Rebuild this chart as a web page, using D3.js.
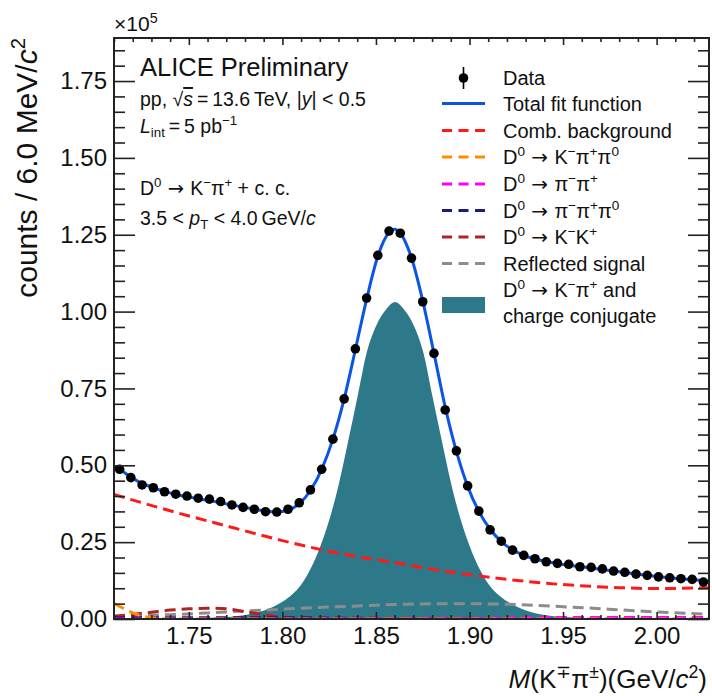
<!DOCTYPE html>
<html>
<head>
<meta charset="utf-8">
<script src="https://cdn.jsdelivr.net/npm/d3@7"></script>
<style>
  html, body { margin: 0; padding: 0; background: #fff; }
  svg { display: block; font-family: "Liberation Sans", Arial, Helvetica, sans-serif; }
</style>
</head>
<body>
<svg id="chart" width="712" height="696"></svg>
<script>
// ---- Invariant mass bins (GeV/c^2), 6 MeV wide ----
const massBins = [1.713,1.719,1.725,1.731,1.737,1.743,1.749,1.755,1.761,1.767,1.773,1.779,1.785,1.791,1.797,
  1.803,1.809,1.815,1.821,1.827,1.833,1.839,1.845,1.851,1.857,1.863,1.869,1.875,1.881,1.887,1.893,1.899,
  1.905,1.911,1.917,1.923,1.929,1.935,1.941,1.947,1.953,1.959,1.965,1.971,1.977,1.983,1.989,1.995,2.001,
  2.007,2.013,2.019,2.025];
// Counts per bin (x10^5)
const counts = [0.487,0.460,0.436,0.427,0.414,0.406,0.400,0.393,0.390,0.382,0.371,0.363,0.357,0.349,0.348,
  0.357,0.378,0.420,0.487,0.585,0.716,0.879,1.044,1.183,1.262,1.255,1.174,1.032,0.864,0.680,0.547,0.433,
  0.351,0.290,0.253,0.224,0.207,0.196,0.186,0.181,0.178,0.170,0.168,0.163,0.156,0.152,0.146,0.142,0.137,
  0.134,0.131,0.129,0.120];

// Total fit function samples
const fitMass = [1.710,1.713,1.719,1.725,1.731,1.737,1.743,1.749,1.755,1.761,1.767,1.773,1.779,1.785,1.791,
  1.797,1.803,1.809,1.815,1.821,1.827,1.833,1.839,1.845,1.851,1.857,1.860,1.863,1.869,1.875,1.881,1.887,
  1.893,1.899,1.905,1.911,1.917,1.923,1.929,1.935,1.941,1.947,1.953,1.959,1.965,1.971,1.977,1.983,1.989,
  1.995,2.001,2.007,2.013,2.019,2.025,2.028];
const fitVal = [0.497,0.487,0.462,0.441,0.427,0.415,0.405,0.398,0.391,0.385,0.378,0.371,0.364,0.357,0.351,
  0.348,0.354,0.375,0.418,0.487,0.585,0.716,0.876,1.040,1.180,1.257,1.268,1.255,1.175,1.035,0.865,0.690,
  0.545,0.432,0.350,0.292,0.252,0.225,0.207,0.195,0.187,0.180,0.175,0.170,0.166,0.161,0.156,0.151,0.146,
  0.142,0.138,0.134,0.131,0.128,0.125,0.124];

// Signal D0 -> K-pi+ and charge conjugate
const sigMass = [1.710,1.7502,1.7652,1.7802,1.7902,1.8002,1.8052,1.8102,1.8152,1.8202,1.8252,1.8302,1.8352,
  1.8402,1.8452,1.8502,1.8552,1.8602,1.8652,1.8702,1.8752,1.8802,1.8852,1.8902,1.8952,1.9002,1.9052,1.9102,
  1.9152,1.9202,1.9302,1.9402,1.9552,1.9702,2.0102,2.028];
const sigVal = [0.000,0.002,0.005,0.013,0.028,0.057,0.080,0.113,0.165,0.235,0.325,0.440,0.580,
  0.725,0.870,0.955,1.005,1.031,1.005,0.955,0.870,0.725,0.580,0.440,0.325,0.235,0.165,0.113,
  0.080,0.057,0.028,0.013,0.005,0.002,0.000,0.000];

// Combinatorial background
const bkgMass = [1.710,1.740,1.770,1.800,1.830,1.860,1.890,1.920,1.950,1.980,2.000,2.028];
const bkgVal  = [0.405,0.352,0.303,0.255,0.214,0.183,0.153,0.129,0.112,0.102,0.099,0.102];

// Reflected signal
const reflMass = [1.710,1.740,1.770,1.800,1.830,1.860,1.890,1.920,1.950,1.980,2.000,2.028];
const reflVal  = [0.010,0.014,0.023,0.032,0.040,0.047,0.050,0.048,0.040,0.030,0.023,0.015];

// D0 -> K-pi+pi0
const kpipi0Mass = [1.710,1.715,1.720,1.725,1.730,1.740,2.028];
const kpipi0Val  = [0.050,0.035,0.020,0.010,0.004,0.000,0.000];

// D0 -> pi-pi+
const pipiMass = [1.710,1.900,1.930,1.960,2.000,2.028];
const pipiVal  = [0.000,0.001,0.004,0.005,0.005,0.005];

// D0 -> pi-pi+pi0
const pipipi0Mass = [1.710,1.750,1.800,1.850,1.900,2.028];
const pipipi0Val  = [0.004,0.004,0.004,0.002,0.001,0.000];

// D0 -> K-K+
const kkMass = [1.710,1.720,1.730,1.740,1.750,1.760,1.770,1.780,1.790,1.800,1.810,1.830,2.028];
const kkVal  = [0.008,0.015,0.022,0.029,0.033,0.035,0.033,0.024,0.014,0.005,0.002,0.000,0.000];

const xTickLabels = ["1.75","1.80","1.85","1.90","1.95","2.00"];
const yTickLabels = ["0.00","0.25","0.50","0.75","1.00","1.25","1.50","1.75"];

// ---- Layout ----
const svg = d3.select("#chart");
const L = 114, R = 709, T = 38, B = 619;
const x = d3.scaleLinear().domain([1.71, 2.028]).range([L, R]);
const y = d3.scaleLinear().domain([0, 1.89]).range([B, T]);

svg.append("defs").append("clipPath").attr("id", "plotClip")
  .append("rect").attr("x", L).attr("y", T).attr("width", R - L).attr("height", B - T);

const plot = svg.append("g").attr("clip-path", "url(#plotClip)");

const curveLine = (ms, vs) => d3.line()
  .x((d, i) => x(ms[i])).y(d => y(d)).curve(d3.curveMonotoneX)(vs);

// Signal area
plot.append("path")
  .attr("d", d3.area().x((d, i) => x(sigMass[i])).y0(y(0)).y1(d => y(d)).curve(d3.curveMonotoneX)(sigVal))
  .attr("fill", "#2d7889");

// Dashed component curves
const comps = [
  {m: reflMass, v: reflVal, c: "#8c8c8c"},
  {m: kkMass, v: kkVal, c: "#b22222"},
  {m: pipipi0Mass, v: pipipi0Val, c: "#1c1c78"},
  {m: pipiMass, v: pipiVal, c: "#ff00ff"},
  {m: kpipi0Mass, v: kpipi0Val, c: "#ff8c00"},
  {m: bkgMass, v: bkgVal, c: "#ff1a1a"}
];
comps.forEach(cp => {
  plot.append("path").attr("d", curveLine(cp.m, cp.v))
    .attr("fill", "none").attr("stroke", cp.c).attr("stroke-width", 3)
    .attr("stroke-dasharray", "11,6");
});

// Total fit
plot.append("path").attr("d", curveLine(fitMass, fitVal))
  .attr("fill", "none").attr("stroke", "#0a55e6").attr("stroke-width", 3);

// Data points
plot.selectAll("circle.data").data(counts).enter().append("circle")
  .attr("class", "data")
  .attr("cx", (d, i) => x(massBins[i])).attr("cy", d => y(d)).attr("r", 4.8)
  .attr("fill", "#000");

// ---- Axes ----
const axisColor = "#222";
const xMajor = xTickLabels.map(Number);
const yMajor = yTickLabels.map(Number);
const xMinor = d3.range(1.71, 2.0285, 0.01).map(v => +v.toFixed(3)).filter(v => !xMajor.some(M => Math.abs(M - v) < 1e-6));
const yMinor = d3.range(0, 1.8901, 0.05).map(v => +v.toFixed(3)).filter(v => !yMajor.some(M => Math.abs(M - v) < 1e-6));

function styleAxis(g) {
  g.select(".domain").remove();
  g.selectAll(".tick line").attr("stroke", axisColor).attr("stroke-width", 1.6);
  g.selectAll(".tick text").attr("fill", "#111").attr("font-size", 24)
    .attr("font-family", "\"Liberation Sans\", Arial, Helvetica, sans-serif");
}

svg.append("g").attr("transform", `translate(0,${B})`)
  .call(d3.axisBottom(x).tickValues(xMajor).tickFormat((d, i) => xTickLabels[i]).tickSize(-7).tickPadding(8))
  .call(styleAxis);
svg.append("g").attr("transform", `translate(0,${B})`)
  .call(d3.axisBottom(x).tickValues(xMinor).tickFormat("").tickSize(-4)).call(styleAxis);
svg.append("g").attr("transform", `translate(0,${T})`)
  .call(d3.axisTop(x).tickValues(xMajor).tickFormat("").tickSize(-7)).call(styleAxis);
svg.append("g").attr("transform", `translate(0,${T})`)
  .call(d3.axisTop(x).tickValues(xMinor).tickFormat("").tickSize(-4)).call(styleAxis);

svg.append("g").attr("transform", `translate(${L},0)`)
  .call(d3.axisLeft(y).tickValues(yMajor).tickFormat((d, i) => yTickLabels[i]).tickSize(-21).tickPadding(7))
  .call(styleAxis);
svg.append("g").attr("transform", `translate(${L},0)`)
  .call(d3.axisLeft(y).tickValues(yMinor).tickFormat("").tickSize(-11)).call(styleAxis);
svg.append("g").attr("transform", `translate(${R},0)`)
  .call(d3.axisRight(y).tickValues(yMajor).tickFormat("").tickSize(-21)).call(styleAxis);
svg.append("g").attr("transform", `translate(${R},0)`)
  .call(d3.axisRight(y).tickValues(yMinor).tickFormat("").tickSize(-11)).call(styleAxis);

svg.append("rect").attr("x", L).attr("y", T).attr("width", R - L).attr("height", B - T)
  .attr("fill", "none").attr("stroke", axisColor).attr("stroke-width", 2);

// ---- Rich text helper: parts with optional sup/sub, italic, overline, arrow font ----
function rich(parent, px, py, parts, size, anchor, transform) {
  const t = parent.append("text").attr("x", px).attr("y", py)
    .attr("font-size", size).attr("fill", "#111").attr("text-anchor", anchor || "start");
  if (transform) t.attr("transform", transform);
  let off = 0;
  parts.forEach(p => {
    const target = p.s === "sup" ? -0.40 * size : p.s === "sub" ? 0.22 * size : 0;
    const ts = t.append("tspan").attr("dy", target - off).text(p.t);
    off = target;
    if (p.s) ts.attr("font-size", size * 0.68);
    if (p.i) ts.attr("font-style", "italic");
    if (p.o) ts.style("text-decoration", "overline");
    if (p.a) ts.attr("font-family", "\"DejaVu Sans\", sans-serif");
  });
  return t;
}
const ARROW = {t: " → ", a: true};
const TS = "\u2009";

// Exponent
rich(svg, 114, 31, [{t: "×10"}, {t: "5", s: "sup"}], 21);

// Axis titles
rich(svg, 0, 0, [{t: "counts / 6.0 MeV/"}, {t: "c", i: true}, {t: "2", s: "sup"}], 30, "end",
  "translate(37,38) rotate(-90)");
rich(svg, 707, 688, [{t: "M", i: true}, {t: "(K"}, {t: "∓", s: "sup"}, {t: "π"}, {t: "±", s: "sup"},
  {t: ")(GeV/"}, {t: "c", i: true}, {t: "2", s: "sup"}, {t: ")"}], 26, "end");

// Header text
rich(svg, 140, 76, [{t: "ALICE Preliminary"}], 25.5);
rich(svg, 140, 106, [{t: "pp, √"}, {t: "s", i: true, o: true}, {t: TS + "=" + TS + "13.6" + TS + "TeV, |"}, {t: "y", i: true}, {t: "| < 0.5"}], 19.5);
rich(svg, 140, 133, [{t: "L", i: true}, {t: "int", s: "sub"}, {t: TS + "=" + TS + "5 pb"}, {t: "−1", s: "sup"}], 19.5);
rich(svg, 140, 195, [{t: "D"}, {t: "0", s: "sup"}, ARROW, {t: "K"}, {t: "−", s: "sup"}, {t: "π"}, {t: "+", s: "sup"}, {t: " + c. c."}], 19.5);
rich(svg, 140, 225, [{t: "3.5 < "}, {t: "p", i: true}, {t: "T", s: "sub"}, {t: " < 4.0" + TS + "GeV/"}, {t: "c", i: true}], 19.5);

// ---- Legend ----
const lg = svg.append("g");
const lx0 = 442, lx1 = 485, tx = 503;
const rows = [
  {y: 78, type: "data", parts: [{t: "Data"}]},
  {y: 103.5, type: "line", c: "#0a55e6", parts: [{t: "Total fit function"}]},
  {y: 130.5, type: "dash", c: "#ff1a1a", parts: [{t: "Comb. background"}]},
  {y: 157, type: "dash", c: "#ff8c00", parts: [{t: "D"}, {t: "0", s: "sup"}, ARROW, {t: "K"}, {t: "−", s: "sup"}, {t: "π"}, {t: "+", s: "sup"}, {t: "π"}, {t: "0", s: "sup"}]},
  {y: 184, type: "dash", c: "#ff00ff", parts: [{t: "D"}, {t: "0", s: "sup"}, ARROW, {t: "π"}, {t: "−", s: "sup"}, {t: "π"}, {t: "+", s: "sup"}]},
  {y: 210.5, type: "dash", c: "#1c1c78", parts: [{t: "D"}, {t: "0", s: "sup"}, ARROW, {t: "π"}, {t: "−", s: "sup"}, {t: "π"}, {t: "+", s: "sup"}, {t: "π"}, {t: "0", s: "sup"}]},
  {y: 237, type: "dash", c: "#b22222", parts: [{t: "D"}, {t: "0", s: "sup"}, ARROW, {t: "K"}, {t: "−", s: "sup"}, {t: "K"}, {t: "+", s: "sup"}]},
  {y: 263.5, type: "dash", c: "#8c8c8c", parts: [{t: "Reflected signal"}]}
];
rows.forEach(r => {
  if (r.type === "data") {
    lg.append("line").attr("x1", (lx0 + lx1) / 2).attr("x2", (lx0 + lx1) / 2)
      .attr("y1", r.y - 11).attr("y2", r.y + 11).attr("stroke", "#000").attr("stroke-width", 1.6);
    lg.append("circle").attr("cx", (lx0 + lx1) / 2).attr("cy", r.y).attr("r", 4.8).attr("fill", "#000");
  } else {
    const ln = lg.append("line").attr("x1", lx0).attr("x2", lx1).attr("y1", r.y).attr("y2", r.y)
      .attr("stroke", r.c).attr("stroke-width", 3);
    if (r.type === "dash") ln.attr("stroke-dasharray", "10,6.5");
  }
  rich(lg, tx, r.y + 7, r.parts, 20);
});
lg.append("rect").attr("x", lx0).attr("y", 297).attr("width", lx1 - lx0).attr("height", 16)
  .attr("fill", "#2d7889");
rich(lg, tx, 297, [{t: "D"}, {t: "0", s: "sup"}, ARROW, {t: "K"}, {t: "−", s: "sup"}, {t: "π"}, {t: "+", s: "sup"}, {t: " and"}], 20);
rich(lg, tx, 323, [{t: "charge conjugate"}], 20);
</script>
</body>
</html>
